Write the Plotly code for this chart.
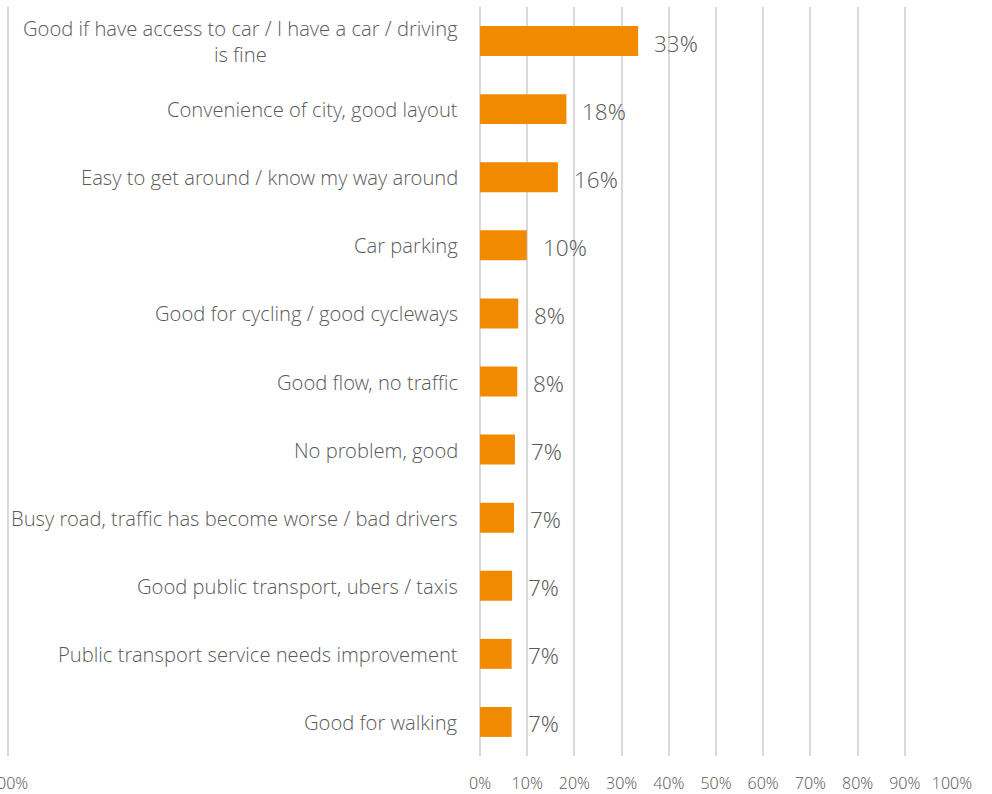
import plotly.graph_objects as go

# survey answers, top to bottom
categories = [
    "Good if have access to car / I have a car / driving<br>is fine",
    "Convenience of city, good layout",
    "Easy to get around / know my way around",
    "Car parking",
    "Good for cycling / good cycleways",
    "Good flow, no traffic",
    "No problem, good",
    "Busy road, traffic has become worse / bad drivers",
    "Good public transport, ubers / taxis",
    "Public transport service needs improvement",
    "Good for walking",
]
values = [33.5, 18.3, 16.5, 9.9, 8.1, 7.9, 7.4, 7.2, 6.8, 6.7, 6.7]
value_labels = ["33%", "18%", "16%", "10%", "8%", "8%", "7%", "7%", "7%", "7%", "7%"]

tick_vals = [-100, 0, 10, 20, 30, 40, 50, 60, 70, 80, 90, 100]
tick_text = ["100%", "0%", "10%", "20%", "30%", "40%", "50%", "60%", "70%", "80%", "90%", "100%"]

ORANGE = "#F28A00"
GREY_TXT = "#595959"
FONT = "Open Sans Light, Open Sans"

fig = go.Figure(go.Bar(
    x=values,
    y=categories,
    orientation="h",
    marker=dict(color=ORANGE, line=dict(width=0)),
    hoverinfo="skip",
))

# category labels to the left of the 0% line
for cat in categories:
    fig.add_annotation(
        x=0, y=cat, xref="x", yref="y",
        text=cat, showarrow=False,
        xanchor="right", align="center", xshift=-20,
        font=dict(family=FONT, size=20.2, color=GREY_TXT, weight=300),
    )

# value labels right of the bars
for cat, v, lab in zip(categories, values, value_labels):
    fig.add_annotation(
        x=v, y=cat, xref="x", yref="y",
        text=lab, showarrow=False,
        xanchor="left", xshift=14, yshift=-2,
        font=dict(family=FONT, size=22.5, color=GREY_TXT, weight=300),
    )

fig.update_layout(
    width=992, height=794,
    margin=dict(l=0, r=40, t=7, b=38),
    paper_bgcolor="white", plot_bgcolor="white",
    bargap=0.56,
    showlegend=False,
    font=dict(family=FONT, color=GREY_TXT),
)
fig.update_xaxes(
    range=[-101.7, 100],
    tickvals=tick_vals, ticktext=tick_text,
    showgrid=True, gridcolor="#D9D9D9", gridwidth=2,
    zeroline=False, showline=False,
    ticks="outside", ticklen=13, tickcolor="rgba(0,0,0,0)",
    tickfont=dict(family=FONT, size=16, color=GREY_TXT, weight=300),
    ticklabeloverflow="allow",
    automargin=False, fixedrange=True,
)
fig.update_yaxes(
    autorange="reversed",
    showticklabels=False, showgrid=False, zeroline=False, showline=False,
    fixedrange=True,
)

# the page body has a default 8px margin; remove it so the figure fills the window
fig.write_html("out.html", config={"displayModeBar": False},
               post_script="document.body.style.margin='0';")
